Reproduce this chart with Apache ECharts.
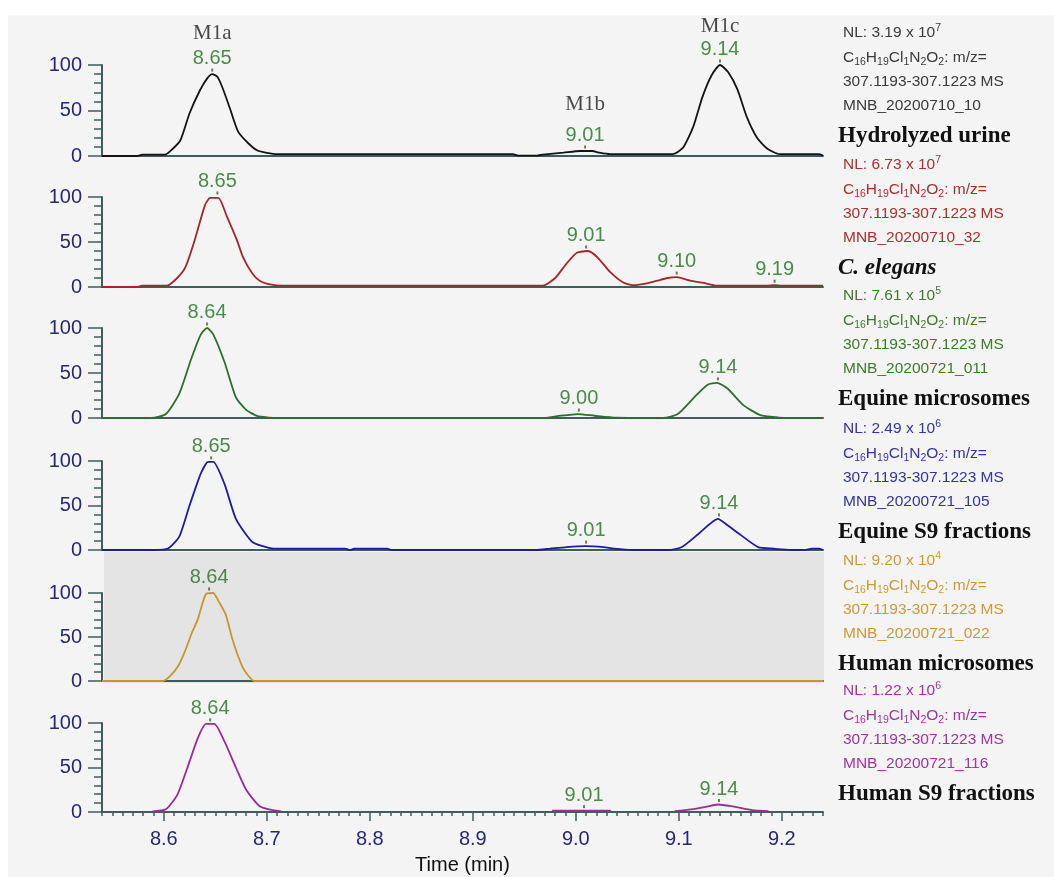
<!DOCTYPE html>
<html>
<head>
<meta charset="utf-8">
<style>
html,body{margin:0;padding:0;background:#ffffff;}
#c{width:1054px;height:877px;}
</style>
<script src="https://cdn.jsdelivr.net/npm/echarts@6/dist/echarts.min.js"></script>
</head>
<body>
<div id="c"></div>
<script>
// ---------------- data ----------------
const timeTicks = [8.6, 8.7, 8.8, 8.9, 9.0, 9.1, 9.2];
const intensityTicks = [0, 50, 100];

// Hydrolyzed urine (black)
const urine = [[8.540,0],[8.574,0],[8.579,1.5],[8.601,1.5],[8.606,5],[8.616,17],[8.625,47],[8.635,72],[8.642,85],[8.647,90],[8.652,87],[8.657,75],[8.664,53],[8.672,27],[8.682,14],[8.691,6],[8.700,3.5],[8.710,2],[8.939,2],[8.944,0.5],[8.962,0.5],[8.968,1.5],[8.988,3.6],[9.004,5.5],[9.016,5.5],[9.023,3.6],[9.033,2],[9.094,2],[9.104,9],[9.114,32],[9.123,65],[9.132,89],[9.140,100],[9.148,92],[9.157,73],[9.166,43],[9.176,20],[9.186,8],[9.198,2],[9.236,2],[9.240,0.5]];
// C. elegans (red)
const elegans = [[8.540,0],[8.574,0],[8.579,1.5],[8.603,1.5],[8.613,10],[8.621,22],[8.630,52],[8.640,91],[8.645,99],[8.653,99],[8.661,79],[8.671,52],[8.677,33],[8.686,15],[8.693,7],[8.703,3],[8.715,1.5],[8.968,1.5],[8.980,10],[8.991,26],[9.001,38],[9.012,40],[9.021,33],[9.033,17],[9.046,5],[9.057,2],[9.069,4],[9.079,7],[9.089,10],[9.098,11],[9.111,7],[9.124,4.5],[9.137,1.5],[9.185,1.5],[9.193,2],[9.200,1.5],[9.240,1.5]];
// Equine microsomes (green)
const equineMic = [[8.540,0],[8.588,0],[8.602,4.4],[8.615,27],[8.627,67],[8.636,93],[8.642,100],[8.648,93],[8.659,62],[8.670,23],[8.680,9],[8.691,2],[8.702,0.5],[8.710,0],[8.968,0],[8.982,2],[9.002,4.4],[9.018,2.5],[9.039,0.3],[9.085,0],[9.099,4.4],[9.115,23],[9.128,37],[9.137,39],[9.147,33],[9.163,14],[9.179,3.3],[9.197,0.5],[9.205,0],[9.240,0]];
// Equine S9 fractions (blue)
const equineS9 = [[8.540,0],[8.590,0],[8.604,1.5],[8.615,15],[8.625,50],[8.636,86],[8.643,99],[8.648,99],[8.659,74],[8.670,35],[8.686,9],[8.702,2.5],[8.712,1.5],[8.776,1.5],[8.781,0],[8.785,1.5],[8.817,1.5],[8.821,0],[8.961,0],[8.975,1.5],[8.991,3.3],[9.009,4.4],[9.027,3.3],[9.037,1.5],[9.055,0],[9.090,0],[9.103,3.3],[9.119,18],[9.138,35],[9.147,28],[9.160,17],[9.177,3.3],[9.192,1.5],[9.209,0],[9.222,0],[9.229,1.5],[9.236,1.5],[9.240,0]];
// Human microsomes (gold)
const humanMic = [[8.540,0],[8.599,0],[8.606,5.5],[8.614,17],[8.621,35],[8.627,54],[8.633,70],[8.641,99],[8.648,100],[8.653,91],[8.660,76],[8.667,46],[8.676,17],[8.682,6],[8.688,0],[9.240,0]];
// Human S9 fractions (purple) - null = no visible trace
const humanS9 = [[8.589,0.7],[8.602,3],[8.613,19],[8.623,50],[8.633,83],[8.641,99],[8.649,99],[8.659,79],[8.670,50],[8.680,25],[8.693,6.5],[8.706,2],[8.714,0.7],[8.85,null],[8.977,1.5],[9.034,1.5],[9.06,null],[9.096,1],[9.112,3],[9.125,5.5],[9.138,8.4],[9.151,6.5],[9.164,3.6],[9.174,1.8],[9.187,1]];

const traces = [urine, elegans, equineMic, equineS9, humanMic, humanS9];

// labelled peaks: [time, intensity] and their printed retention times
const urinePeaks = [[8.647,90],[9.009,5.5],[9.140,100]];
const urinePeakLabels = ['8.65','9.01','9.14'];
const metaboliteNames = ['M1a','M1b','M1c'];
const elegansPeaks = [[8.652,100],[9.010,40],[9.098,11],[9.193,2]];
const elegansPeakLabels = ['8.65','9.01','9.10','9.19'];
const equineMicPeaks = [[8.642,100],[9.003,4.4],[9.138,39]];
const equineMicPeakLabels = ['8.64','9.00','9.14'];
const equineS9Peaks = [[8.646,99],[9.010,4.4],[9.139,35]];
const equineS9PeakLabels = ['8.65','9.01','9.14'];
const humanMicPeaks = [[8.644,100]];
const humanMicPeakLabels = ['8.64'];
const humanS9Peaks = [[8.645,99],[9.008,1.5],[9.139,8.4]];
const humanS9PeakLabels = ['8.64','9.01','9.14'];

const peaks = [urinePeaks, elegansPeaks, equineMicPeaks, equineS9Peaks, humanMicPeaks, humanS9Peaks];
const peakLabels = [urinePeakLabels, elegansPeakLabels, equineMicPeakLabels, equineS9PeakLabels, humanMicPeakLabels, humanS9PeakLabels];

// side annotations
const sampleNames = ['Hydrolyzed urine','C. elegans','Equine microsomes','Equine S9 fractions','Human microsomes','Human S9 fractions'];
const nlMantissa = ['3.19','6.73','7.61','2.49','9.20','1.22'];
const nlExponent = ['7','7','5','6','4','6'];
const fileNames = ['MNB_20200710_10','MNB_20200710_32','MNB_20200721_011','MNB_20200721_105','MNB_20200721_022','MNB_20200721_116'];
const formula = [['C','16'],['H','19'],['Cl','1'],['N','2'],['O','2']];
const mzRange = '307.1193-307.1223 MS';

// ---------------- layout / style ----------------
const panelTop = [65,197,328,461,593,723];
const panelBottom = [156,287,418,550,681,812];
const gridLeft = 102, gridRight = 231;
const traceColors = ['#141414','#a3262a','#2d6e2d','#1c1c9c','#c9962e','#9b2a9b'];
const textColors = ['#3a3a3a','#a8302f','#3d7a2c','#3434a0','#c99a3a','#a034a0'];
const italicName = [false,true,false,false,false,false];
const metaboliteGap = [30,42,26];
const axisColor = '#3e5d5b';
const navy = '#272778';
const peakGreen = '#1f701f';
const sans = 'Liberation Sans, Arial, sans-serif';
const serif = 'Liberation Serif, Times New Roman, serif';

const grids = [], xAxes = [], yAxes = [], series = [], graphics = [];

graphics.push({type:'rect', z:-20, shape:{x:8,y:15,width:1046,height:862}, style:{fill:'#f4f4f4'}});
graphics.push({type:'rect', z:-19, shape:{x:104,y:552,width:720,height:131}, style:{fill:'#e4e4e4'}});

for (let i = 0; i < 6; i++) {
  const last = i === 5;
  grids.push({left:gridLeft, right:gridRight, top:panelTop[i], height:panelBottom[i]-panelTop[i]});
  xAxes.push({
    gridIndex:i, type:'value', min:8.54, max:9.24, interval:0.01, position:'bottom',
    axisLine:{show:true, onZero:false, lineStyle:{color:axisColor, width:2}},
    axisTick:{show:last, length:4, lineStyle:{color:axisColor, width:1.5}},
    axisLabel:{show:false}, splitLine:{show:false}
  });
  yAxes.push({
    gridIndex:i, type:'value', min:0, max:100, interval:50,
    axisLine:{show:true, lineStyle:{color:axisColor, width:2}},
    axisTick:{show:true, length:14, lineStyle:{color:axisColor, width:1.5}},
    minorTick:{show:true, splitNumber:5, length:8, lineStyle:{color:axisColor, width:1.5}},
    axisLabel:{show:true, color:navy, fontSize:20, fontFamily:sans, margin:20,
      customValues: intensityTicks},
    splitLine:{show:false}
  });
  series.push({
    type:'line', xAxisIndex:i, yAxisIndex:i, data:traces[i], showSymbol:false, symbol:'none',
    smooth:0.2, connectNulls:false, clip:false,
    lineStyle:{color:traceColors[i], width:1.8}, z:3, silent:true
  });
  const rich = {n:{fontSize:20, fontFamily:sans, color:peakGreen, lineHeight:20}};
  if (i === 0) metaboliteNames.forEach((m,k)=>{ rich['m'+k] = {fontSize:21, fontFamily:serif, color:'#1a1a1a', lineHeight:metaboliteGap[k]}; });
  series.push({
    type:'scatter', xAxisIndex:i, yAxisIndex:i, symbol:'rect', symbolSize:[2,3], symbolOffset:[0,-4],
    itemStyle:{color:'#4d5a2a'}, z:4, silent:true,
    data: peaks[i].map((p,k)=>({value:p, name:peakLabels[i][k]})),
    label:{show:true, position:'top', distance:0, rich:rich,
      formatter: (prm)=> (i===0 ? '{m'+prm.dataIndex+'|'+metaboliteNames[prm.dataIndex]+'}\n' : '') + '{n|'+prm.name+'}'}
  });

  // side annotation text
  const c = textColors[i];
  const t = {fill:c, fontSize:15.5, fontFamily:sans, lineHeight:20};
  const s = {fill:c, fontSize:10.5, fontFamily:sans, lineHeight:11, verticalAlign:'bottom'};
  const p = {fill:c, fontSize:10.5, fontFamily:sans, lineHeight:11, verticalAlign:'top'};
  const base = panelTop[i];
  graphics.push({type:'text', x:843, y:base-32, style:{text:'{t|NL: '+nlMantissa[i]+' x 10}{p|'+nlExponent[i]+'}', rich:{t,p}, fill:c, verticalAlign:'middle'}});
  graphics.push({type:'text', x:843, y:base-7, style:{text: formula.map(f=>'{t|'+f[0]+'}{s|'+f[1]+'}').join('')+'{t|: m/z=}', rich:{t,s}, fill:c, verticalAlign:'middle'}});
  graphics.push({type:'text', x:843, y:base+17, style:{text:mzRange, fill:c, fontSize:15.5, fontFamily:sans, verticalAlign:'middle'}});
  graphics.push({type:'text', x:843, y:base+41, style:{text:fileNames[i], fill:c, fontSize:15.5, fontFamily:sans, verticalAlign:'middle'}});
  graphics.push({type:'text', x:838, y:base+71, style:{text:sampleNames[i], fill:'#111111', fontSize:23, fontWeight:'bold', fontStyle: italicName[i]?'italic':'normal', fontFamily:serif, verticalAlign:'middle'}});
}

// major ticks + labels of the time axis (bottom panel)
xAxes.push({
  gridIndex:5, type:'value', min:8.54, max:9.24, position:'bottom',
  axisLine:{show:false},
  axisTick:{show:true, length:9, customValues:timeTicks, lineStyle:{color:axisColor, width:1.5}},
  axisLabel:{show:true, customValues:timeTicks, color:navy, fontSize:20, fontFamily:sans, margin:17,
    formatter:(v)=>v.toFixed(1)},
  splitLine:{show:false},
  name:'Time (min)', nameLocation:'middle', nameGap:43,
  nameTextStyle:{color:'#111111', fontSize:20, fontFamily:sans}
});

const chart = echarts.init(document.getElementById('c'), null, {renderer:'canvas'});
chart.setOption({
  backgroundColor:'#ffffff',
  animation:false,
  grid:grids, xAxis:xAxes, yAxis:yAxes, series:series, graphic:graphics
});
</script>
</body>
</html>
